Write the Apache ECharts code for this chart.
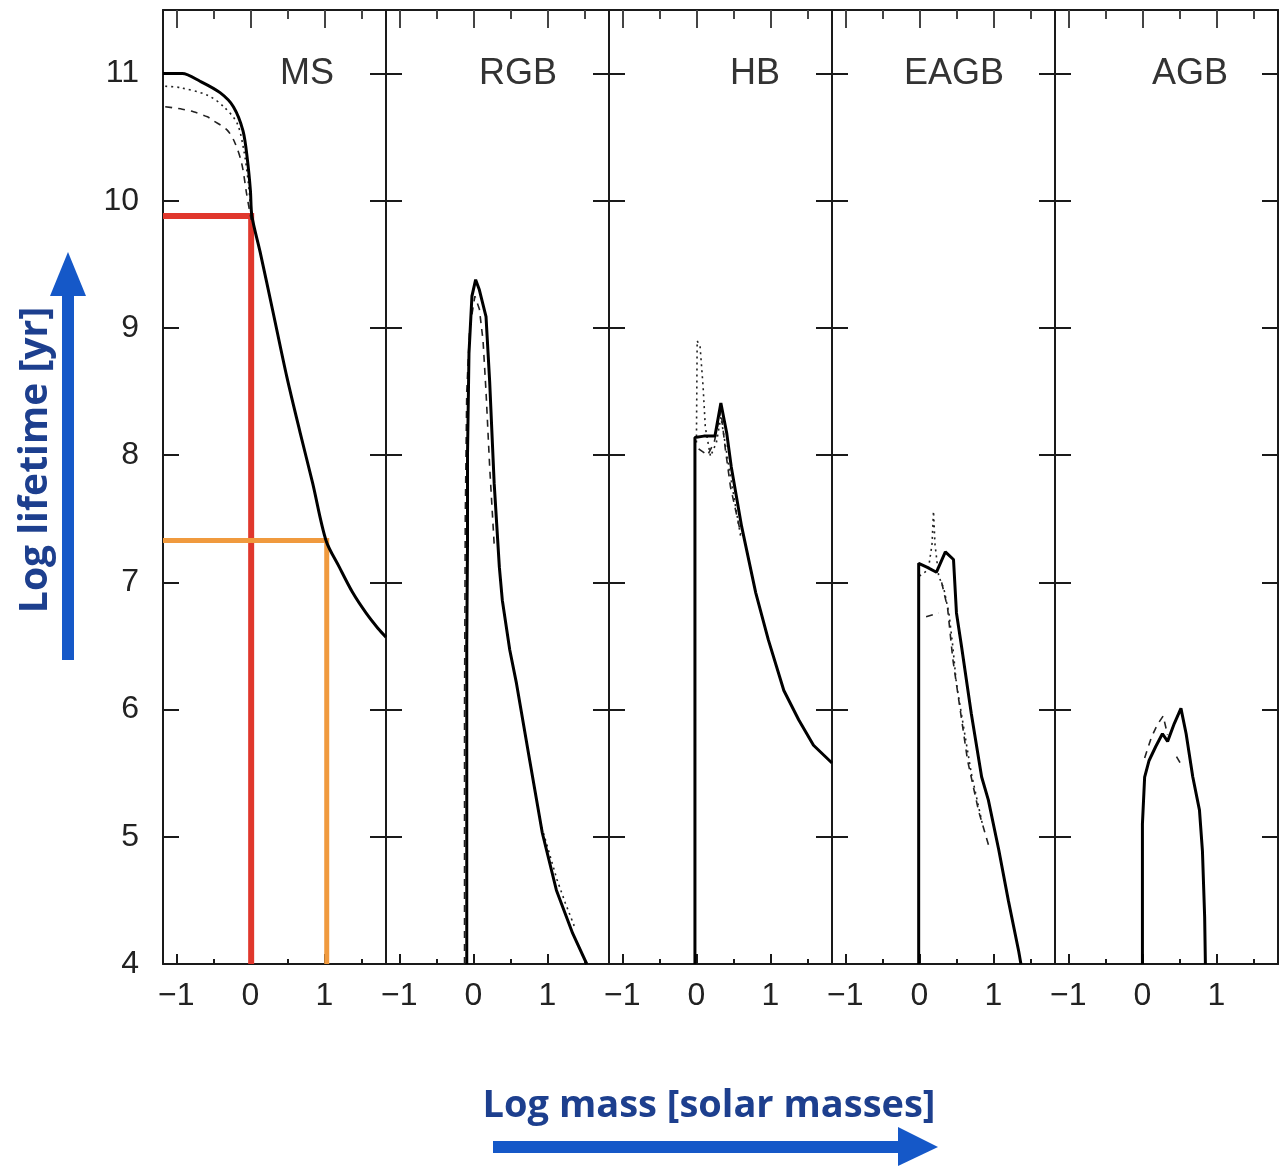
<!DOCTYPE html>
<html>
<head>
<meta charset="utf-8">
<script src="https://cdn.jsdelivr.net/npm/echarts@6/dist/echarts.min.js"></script>
<style>
  html, body { margin: 0; padding: 0; background: #fff; }
  #chart { width: 1285px; height: 1166px; }
</style>
</head>
<body>
<div id="chart"></div>
<script>
// ---------- data ----------
const panels = ['MS', 'RGB', 'HB', 'EAGB', 'AGB'];
const xTicks = [-1, 0, 1];
const xMinorTicks = [-0.5, 0.5, 1.5];
const yTicks = [4, 5, 6, 7, 8, 9, 10, 11];
const xMin = -1.18, xMax = 1.83, yMin = 4, yMax = 11.5;

// MS panel
const msSolid = [[-1.18,11.0],[-0.92,11.0],[-0.68,10.94],[-0.41,10.85],[-0.23,10.74],[-0.1,10.55],[-0.04,10.32],[0.0,10.08],[0.02,9.88],[0.13,9.6],[0.3,9.14],[0.49,8.62],[0.67,8.18],[0.84,7.78],[1.02,7.33],[1.2,7.12],[1.38,6.92],[1.56,6.76],[1.72,6.64],[1.83,6.57]];
const msDotted = [[-1.15,10.9],[-0.95,10.89],[-0.58,10.83],[-0.36,10.74],[-0.18,10.61],[-0.09,10.4],[-0.03,10.15],[0.01,9.9]];
const msDashed = [[-1.15,10.74],[-0.92,10.72],[-0.77,10.7],[-0.58,10.66],[-0.5,10.63],[-0.32,10.56],[-0.22,10.47],[-0.12,10.3],[-0.05,10.05],[0.01,9.85]];
const redGuide = [[-1.18,9.88],[0.01,9.88],[0.01,4.0]];
const orangeGuide = [[-1.18,7.33],[1.03,7.33],[1.03,4.0]];

// RGB panel
const rgbSolid = [[-0.09,4.0],[-0.09,5.5],[-0.09,6.5],[-0.08,7.3],[-0.08,8.0],[-0.06,8.8],[-0.02,9.25],[0.03,9.38],[0.08,9.3],[0.17,9.09],[0.22,8.57],[0.28,7.78],[0.35,7.12],[0.39,6.86],[0.49,6.47],[0.58,6.21],[0.76,5.6],[0.93,5.03],[1.12,4.58],[1.34,4.24],[1.53,4.0]];
const rgbDashed = [[-0.12,4.0],[-0.12,6.0],[-0.11,7.5],[-0.09,8.5],[-0.05,9.0],[0.02,9.25],[0.08,9.15],[0.13,8.9],[0.17,8.5],[0.22,7.9],[0.28,7.3]];
const rgbDotted = [[0.9,5.12],[1.02,4.88],[1.13,4.66],[1.24,4.48],[1.36,4.3]];

// HB panel
const hbSolid = [[-0.02,4.0],[-0.02,8.14],[0.1,8.15],[0.25,8.15],[0.33,8.41],[0.41,8.17],[0.47,7.91],[0.61,7.44],[0.8,6.92],[0.97,6.55],[1.18,6.15],[1.38,5.92],[1.58,5.72],[1.83,5.58]];
const hbDotted = [[0.0,8.1],[0.01,8.9],[0.05,8.85],[0.09,8.54],[0.12,8.22],[0.19,7.99],[0.27,8.1],[0.33,8.3],[0.4,8.05],[0.47,7.8],[0.6,7.35]];
const hbDashed = [[0.03,8.05],[0.15,8.0],[0.24,8.1],[0.33,8.35],[0.39,8.05],[0.46,7.75],[0.6,7.38]];

// EAGB panel
const eagbSolid = [[-0.01,4.0],[-0.01,7.15],[0.1,7.12],[0.23,7.08],[0.35,7.24],[0.46,7.18],[0.5,6.76],[0.57,6.49],[0.7,5.97],[0.84,5.47],[0.93,5.29],[1.07,4.9],[1.2,4.5],[1.34,4.1],[1.37,4.0]];
const eagbDotted = [[0.0,7.05],[0.12,7.1],[0.17,7.3],[0.19,7.56],[0.21,7.3],[0.26,7.05],[0.33,6.95],[0.4,6.75],[0.45,6.5],[0.5,6.2],[0.6,5.85],[0.7,5.5],[0.85,5.1]];
const eagbDashedA = [[0.09,6.73],[0.26,6.76]];
const eagbDashedB = [[0.3,7.0],[0.38,6.8],[0.45,6.4],[0.55,6.0],[0.65,5.6],[0.8,5.2],[0.95,4.9]];

// AGB panel
const agbSolid = [[0.0,4.0],[0.0,5.1],[0.03,5.47],[0.09,5.6],[0.18,5.71],[0.27,5.81],[0.34,5.75],[0.43,5.89],[0.52,6.01],[0.59,5.81],[0.68,5.47],[0.77,5.21],[0.81,4.89],[0.84,4.37],[0.85,4.0]];
const agbDashedA = [[0.03,5.62],[0.12,5.78],[0.2,5.88],[0.28,5.95],[0.34,5.8]];
const agbDashedB = [[0.46,5.63],[0.54,5.55]];

// ---------- layout / style ----------
const gLeft = 163, gTop = 10, gW = 223, gH = 954;
const axisColor = '#1a1a1a';
const fmt = v => (v < 0 ? '\u2212' + Math.abs(v) : String(v));

const grids = [], xAxes = [], yAxes = [];
panels.forEach((p, i) => {
  grids.push({ left: gLeft + i * gW, top: gTop, width: gW, height: gH });
  const base = { gridIndex: i, type: 'value', min: xMin, max: xMax, splitLine: { show: false } };
  xAxes.push(Object.assign({}, base, {
    position: 'bottom',
    axisLine: { show: true, onZero: false, lineStyle: { color: axisColor, width: 2 } },
    axisTick: { show: true, inside: true, length: 10, customValues: xTicks, lineStyle: { color: axisColor, width: 2 } },
    axisLabel: { show: true, customValues: xTicks, formatter: fmt, fontSize: 32, color: '#222', margin: 16, fontFamily: 'Liberation Sans' }
  }));
  xAxes.push(Object.assign({}, base, {
    position: 'bottom',
    axisLine: { show: false },
    axisTick: { show: true, inside: true, length: 5, customValues: xMinorTicks, lineStyle: { color: axisColor, width: 2 } },
    axisLabel: { show: false }
  }));
  xAxes.push(Object.assign({}, base, {
    position: 'top',
    axisLine: { show: true, onZero: false, lineStyle: { color: axisColor, width: 2 } },
    axisTick: { show: true, inside: true, length: 18, customValues: xTicks, lineStyle: { color: '#444', width: 2 } },
    axisLabel: { show: false }
  }));
  xAxes.push(Object.assign({}, base, {
    position: 'top',
    axisLine: { show: false },
    axisTick: { show: true, inside: true, length: 9, customValues: xMinorTicks, lineStyle: { color: '#444', width: 2 } },
    axisLabel: { show: false }
  }));
  const ybase = { gridIndex: i, type: 'value', min: yMin, max: yMax, splitLine: { show: false } };
  yAxes.push(Object.assign({}, ybase, {
    position: 'left',
    axisLine: { show: true, onZero: false, lineStyle: { color: axisColor, width: 2 } },
    axisTick: { show: true, inside: true, length: 16, customValues: yTicks, lineStyle: { color: axisColor, width: 2 } },
    axisLabel: { show: i === 0, customValues: yTicks, fontSize: 32, color: '#222', margin: 24, fontFamily: 'Liberation Sans' }
  }));
  yAxes.push(Object.assign({}, ybase, {
    position: 'right',
    axisLine: { show: true, onZero: false, lineStyle: { color: axisColor, width: 2 } },
    axisTick: { show: true, inside: true, length: 16, customValues: yTicks, lineStyle: { color: axisColor, width: 2 } },
    axisLabel: { show: false }
  }));
});

function mk(data, panel, style, z, smooth) {
  return {
    type: 'line', data: data, xAxisIndex: panel * 4, yAxisIndex: panel * 2,
    symbol: 'none', silent: true, clip: true, z: z || 2, animation: false,
    smooth: smooth || false,
    lineStyle: style
  };
}
const solid = { color: '#000', width: 3 };
const dotted = { color: '#222', width: 1.6, type: [2, 4] };
const dashed = { color: '#222', width: 1.6, type: [7, 6] };

const series = [
  mk(redGuide, 0, { color: '#e0372c', width: 6, cap: 'butt', join: 'miter' }, 1),
  mk(orangeGuide, 0, { color: '#f09a3e', width: 5, cap: 'butt', join: 'miter' }, 1),
  mk(msDotted, 0, dotted, 2, 0.3), mk(msDashed, 0, dashed, 2, 0.3), mk(msSolid, 0, solid, 3, 0.3),
  mk(rgbDashed, 1, dashed), mk(rgbDotted, 1, dotted), mk(rgbSolid, 1, solid, 3),
  mk(hbDotted, 2, dotted), mk(hbDashed, 2, dashed), mk(hbSolid, 2, solid, 3),
  mk(eagbDotted, 3, dotted), mk(eagbDashedA, 3, dashed), mk(eagbDashedB, 3, dashed), mk(eagbSolid, 3, solid, 3),
  mk(agbDashedA, 4, dashed), mk(agbDashedB, 4, dashed), mk(agbSolid, 4, solid, 3)
];

const titleX = [307, 518, 755, 954, 1190];
const graphics = panels.map((p, i) => ({
  type: 'text', x: titleX[i], y: 74,
  style: { text: p, fontSize: 36, fontFamily: 'Liberation Sans', fill: '#333', align: 'center', verticalAlign: 'middle' }
}));
const blueText = '#1d3f8e', blueArrow = '#1558c8';
graphics.push(
  { type: 'text', x: 36, y: 460, rotation: Math.PI / 2,
    style: { text: 'Log lifetime [yr]', fontSize: 39, fontWeight: 'bold', fontFamily: 'Open Sans', fill: blueText, align: 'center', verticalAlign: 'middle' } },
  { type: 'line', shape: { x1: 68, y1: 660, x2: 68, y2: 292 }, style: { stroke: blueArrow, lineWidth: 12 } },
  { type: 'polygon', shape: { points: [[50, 296], [86, 296], [68, 252]] }, style: { fill: blueArrow } },
  { type: 'text', x: 709, y: 1106,
    style: { text: 'Log mass [solar masses]', fontSize: 38, fontWeight: 'bold', fontFamily: 'Open Sans', fill: blueText, align: 'center', verticalAlign: 'middle' } },
  { type: 'line', shape: { x1: 493, y1: 1147, x2: 902, y2: 1147 }, style: { stroke: blueArrow, lineWidth: 12 } },
  { type: 'polygon', shape: { points: [[898, 1127], [898, 1166], [938, 1147]] }, style: { fill: blueArrow } }
);

const chart = echarts.init(document.getElementById('chart'), null, { renderer: 'canvas' });
chart.setOption({
  animation: false,
  backgroundColor: '#fff',
  grid: grids, xAxis: xAxes, yAxis: yAxes, series: series, graphic: graphics
});
</script>
</body>
</html>
